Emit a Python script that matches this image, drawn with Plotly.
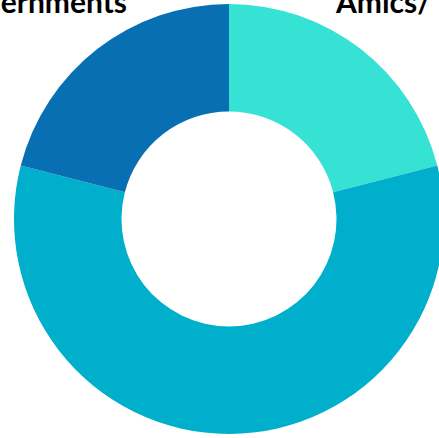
import plotly.graph_objects as go

# Data
labels = ["Amics/ Família", "Altres", "Governments"]
values = [21, 58, 21]
colors = ["#35E2D3", "#00AFCB", "#0870B2"]

# The reference is a crop of a wider chart: the figure is slightly wider than
# the window so that the ring runs off the right edge as in the reference.
W, H = 449, 438

fig = go.Figure()
fig.add_trace(go.Pie(
    labels=labels,
    values=values,
    hole=0.5,
    sort=False,
    direction="clockwise",
    rotation=0,
    textinfo="none",
    hoverinfo="label+percent",
    marker=dict(colors=colors, line=dict(width=0)),
    showlegend=False,
    domain=dict(x=[14 / W, 444 / W], y=[1 - 434 / H, 1 - 4 / H]),
))

label_font = dict(family="Lato", size=30, color="#000000", weight="bold")
fig.add_annotation(text=labels[2], x=129 / W, y=1 - 1.0 / H, xref="paper", yref="paper",
                   xanchor="right", yanchor="middle", showarrow=False, font=label_font)
fig.add_annotation(text=labels[0], x=333 / W, y=1 - 1.0 / H, xref="paper", yref="paper",
                   xanchor="left", yanchor="middle", showarrow=False, font=label_font)

fig.update_layout(
    width=W, height=H,
    margin=dict(l=0, r=0, t=0, b=0),
    paper_bgcolor="#FFFFFF",
    plot_bgcolor="#FFFFFF",
)

fig.write_html(
    "out.html",
    config={"displayModeBar": False},
    post_script="document.body.style.margin='0';document.body.style.overflow='hidden';",
)
